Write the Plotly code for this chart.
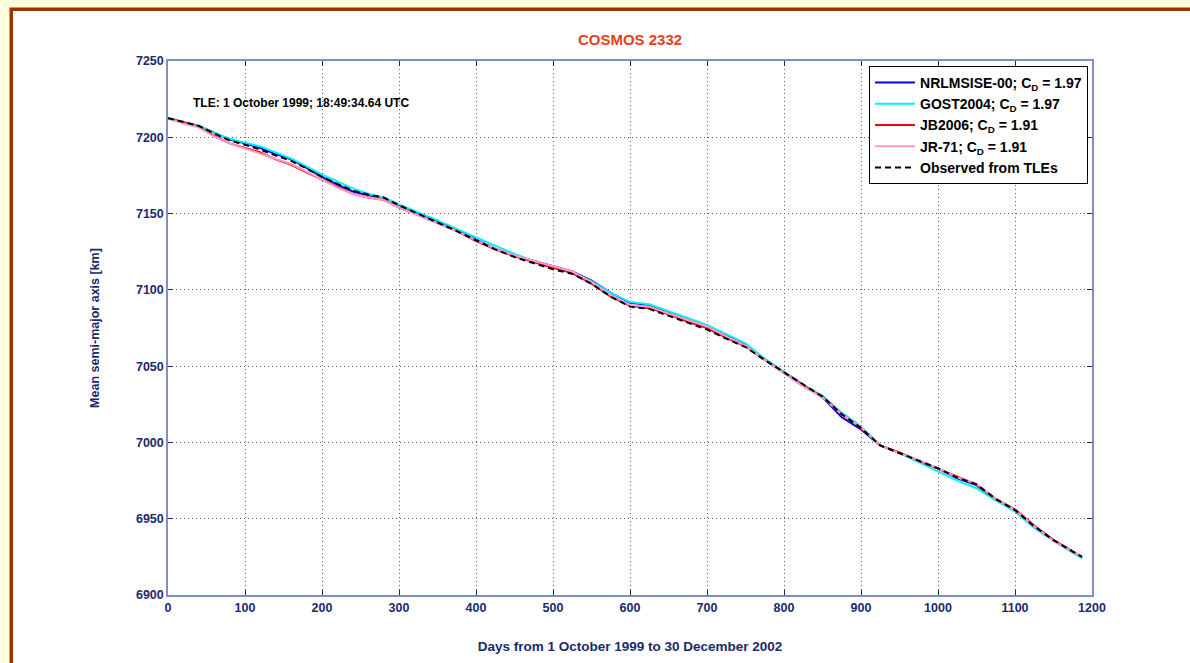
import plotly.graph_objects as go

days = [0, 20, 40, 60, 80, 100, 120, 140, 160, 180, 200, 220, 240, 260, 280, 300,
        325, 350, 375, 400, 425, 450, 475, 500, 525, 550, 575, 600, 625, 650, 675, 700,
        725, 750, 775, 800, 825, 850, 875, 900, 925, 950, 975, 1000, 1025, 1050, 1075,
        1100, 1125, 1150, 1175, 1187]

observed = [7212.5, 7210, 7207.5, 7202.5, 7198, 7195, 7192, 7188, 7184.5, 7179.5, 7174,
            7169.5, 7165, 7162.5, 7160.5, 7155.5, 7150, 7144.5, 7138.5, 7132.5, 7126.5,
            7121.5, 7117.5, 7113.5, 7110.5, 7104, 7095.5, 7089, 7087.5, 7083, 7078, 7074,
            7068, 7062.5, 7054, 7046, 7037.5, 7030, 7018.5, 7009.5, 6998, 6993, 6988, 6983,
            6977, 6972.5, 6963, 6955.7, 6945, 6936, 6928.5, 6925]

nrlmsise = [7212.5, 7210, 7207.5, 7203, 7198.5, 7196, 7193, 7189, 7185.5, 7180, 7174,
            7169, 7164.5, 7162, 7160.5, 7155.5, 7150.5, 7145, 7139, 7133, 7127, 7122.5,
            7119, 7115, 7112, 7106, 7098, 7091.5, 7090, 7085.5, 7080.5, 7076.5, 7070.5,
            7064.5, 7054.5, 7046, 7037.5, 7029.5, 7016.5, 7008.5, 6998, 6993, 6988, 6983,
            6976.5, 6972, 6962.5, 6955.7, 6945, 6936, 6928.5, 6924.5]

gost2004 = [7212.8, 7210, 7207.5, 7203, 7199, 7196.5, 7194, 7190, 7186, 7181, 7175.5,
            7171, 7166.5, 7163, 7160.5, 7156, 7151, 7145.5, 7140, 7134.5, 7128.5, 7123.5,
            7119, 7114.5, 7111.5, 7105.5, 7098, 7092, 7090.5, 7086, 7081, 7077, 7071, 7065,
            7055, 7046, 7037.5, 7030.5, 7019.5, 7010.5, 6998, 6993, 6987, 6981.5, 6975,
            6970, 6962, 6954.7, 6944, 6935.5, 6928, 6924]

jb2006 = [7212.5, 7209.5, 7207, 7201, 7196, 7193, 7190, 7185.5, 7182, 7177, 7172, 7167.5,
          7163, 7160.5, 7159, 7154, 7149, 7144, 7138.5, 7132, 7126.5, 7122, 7118, 7114.5,
          7111, 7104, 7095.5, 7089.5, 7088, 7084, 7079, 7075, 7068.5, 7063, 7054, 7045.5,
          7037, 7030, 7018.5, 7009.5, 6998, 6993.5, 6988, 6983, 6977.5, 6972.5, 6963,
          6956.2, 6945.5, 6936, 6928.5, 6925]

jr71 = [7212.2, 7209, 7206.5, 7200.5, 7196, 7192.5, 7189.5, 7185.5, 7182.5, 7177.5, 7172,
        7167, 7163, 7160.5, 7159, 7154, 7149, 7144, 7138.5, 7132.5, 7127, 7122.5, 7119,
        7115.5, 7112, 7105, 7096.5, 7090, 7089, 7084.5, 7080, 7076, 7069.5, 7063.5, 7054,
        7045.5, 7036.5, 7029.5, 7018.5, 7010, 6998, 6993, 6988.5, 6983, 6977, 6973, 6963,
        6955.7, 6945, 6935.5, 6928.5, 6925]

series_names = ["NRLMSISE-00; C<sub>D</sub> = 1.97", "GOST2004; C<sub>D</sub> = 1.97",
                "JB2006; C<sub>D</sub> = 1.91", "JR-71; C<sub>D</sub> = 1.91",
                "Observed from TLEs"]
series_colors = ["#0000F0", "#00F4F4", "#FF0000", "#FF99CC", "#000000"]

x_ticks = [0, 100, 200, 300, 400, 500, 600, 700, 800, 900, 1000, 1100, 1200]
y_ticks = [6900, 6950, 7000, 7050, 7100, 7150, 7200, 7250]

NAVY = "#1A2A6A"
FONT = "Liberation Sans"

fig = go.Figure()
for ys, name, col in zip([nrlmsise, gost2004, jb2006, jr71], series_names[:4], series_colors[:4]):
    fig.add_trace(go.Scatter(x=days, y=ys, mode="lines", name=name,
                             line=dict(color=col, width=2)))
fig.add_trace(go.Scatter(x=days, y=observed, mode="lines", name=series_names[4],
                         line=dict(color=series_colors[4], width=2, dash="6px,4px")))

axis_common = dict(
    showline=True, linecolor="#8090BC", linewidth=1.5, mirror="ticks",
    ticks="inside", ticklen=5, tickcolor=NAVY, tickwidth=1,
    showgrid=True, gridcolor="#4A5A94", griddash="1px,3px", gridwidth=1,
    zeroline=False, automargin=False,
    tickfont=dict(family=FONT, size=12.5, color=NAVY, weight="bold"),
)

fig.update_xaxes(range=[0, 1200], tickvals=x_ticks, **axis_common,
                 title=dict(text="Days from 1 October 1999 to 30 December 2002",
                            font=dict(family=FONT, size=13.5, color=NAVY, weight="bold"),
                            standoff=28))
fig.update_yaxes(range=[6900, 7250], tickvals=y_ticks, **axis_common,
                 title=dict(text="Mean semi-major axis [km]",
                            font=dict(family=FONT, size=12.5, color=NAVY, weight="bold"),
                            standoff=34))

fig.add_annotation(x=30, y=7222.5, xref="x", yref="y", xanchor="left", yanchor="middle",
                   text="TLE: 1 October 1999; 18:49:34.64 UTC", showarrow=False,
                   font=dict(family=FONT, size=12, color="#000000", weight="bold"))

# frame: cream surround with brown border
fig.add_shape(type="rect", xref="paper", yref="paper", layer="below",
              x0=(9.5 - 168) / 924, x1=(1300 - 168) / 924,
              y0=(595 - 800) / 534, y1=(595 - 7.5) / 534,
              fillcolor="#993300", line=dict(width=0))
fig.add_shape(type="rect", xref="paper", yref="paper", layer="below",
              x0=(13 - 168) / 924, x1=(1300 - 168) / 924,
              y0=(595 - 800) / 534, y1=(595 - 11) / 534,
              fillcolor="#FFFFFF", line=dict(width=0))

fig.update_layout(
    width=1190, height=663,
    margin=dict(l=168, r=98, t=61, b=68, autoexpand=False),
    paper_bgcolor="#FFFFE0", plot_bgcolor="#FFFFFF",
    title=dict(text="COSMOS 2332", x=0.5, xref="paper", xanchor="center",
               y=1 - 40 / 663, yanchor="middle",
               font=dict(family=FONT, size=15, color="#E8401C", weight="bold")),
    legend=dict(x=0.9957, y=0.9906, xanchor="right", yanchor="top",
                bgcolor="#FFFFFF", bordercolor="#000000", borderwidth=1,
                font=dict(family=FONT, size=14, color="#000000", weight="bold"),
                itemwidth=40, tracegroupgap=0),
    showlegend=True,
)

fig.write_html("out.html",
               config={"displayModeBar": False},
               post_script="document.body.style.margin='0';"
                           "document.body.style.background='#FFFFE0';")
